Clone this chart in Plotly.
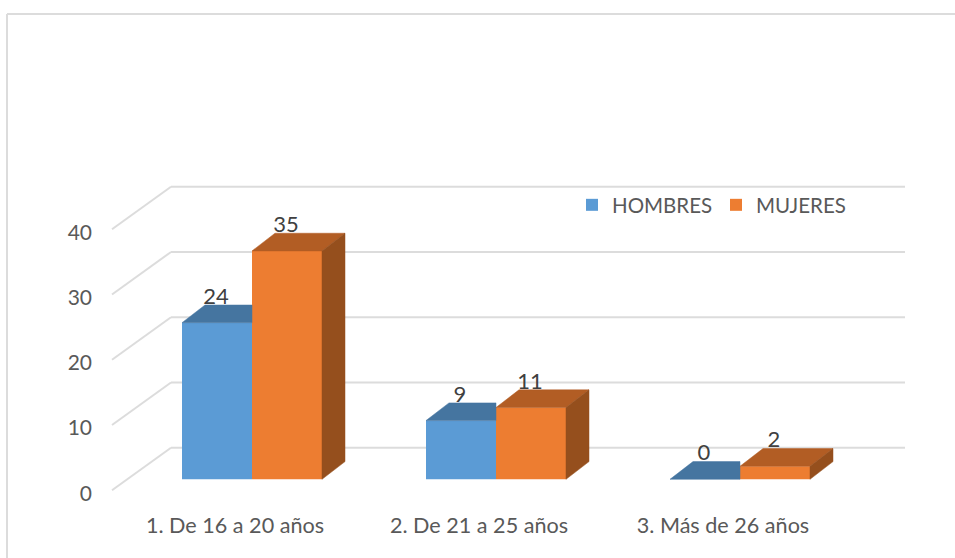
import plotly.graph_objects as go

# ---- data ----
categories = ["1. De 16 a 20 años", "2. De 21 a 25 años", "3. Más de 26 años"]
hombres = [24, 9, 0]
mujeres = [35, 11, 2]
y_ticks = [0, 10, 20, 30, 40]
positions = [1, 2, 3]

# ---- geometry (pixels -> axis units) ----
W, H = 955, 558
PX_CAT = 244.0            # pixels per category
PX_VAL = 6.525            # pixels per value unit
X0_PX, Y0_PX = 252.0, 479.3   # where category 1 centre / value 0 sits
bar_w = 70 / PX_CAT
depth_x = 23 / PX_CAT
depth_y = 17.7 / PX_VAL
wall_x_front = 1 + (112 - X0_PX) / PX_CAT
wall_x_back = 1 + (171 - X0_PX) / PX_CAT
wall_x_end = 1 + (905 - X0_PX) / PX_CAT
wall_y_front = (Y0_PX - 490.3) / PX_VAL   # front end of the 0 line
wall_y_back = (Y0_PX - 447.7) / PX_VAL    # back end of the 0 line

BLUE, BLUE_TOP = "#5B9BD5", "#4575A0"
ORANGE, ORANGE_TOP, ORANGE_SIDE = "#ED7D31", "#B25D24", "#954F1D"
GRID = "#DCDCDC"
TEXT = "#595959"
LABEL = "#404040"
FONT = "Lato"

fig = go.Figure()

# back wall + side wall gridlines, kept under the bars
shapes = []
for t in y_ticks:
    grid = dict(type="line", xref="x", yref="y", layer="below", line=dict(color=GRID, width=2))
    shapes.append(dict(grid, x0=wall_x_front, x1=wall_x_back,
                       y0=t + wall_y_front, y1=t + wall_y_back))
    shapes.append(dict(grid, x0=wall_x_back, x1=wall_x_end,
                       y0=t + wall_y_back, y1=t + wall_y_back))

# front faces
fig.add_trace(go.Bar(x=positions, y=hombres, name="HOMBRES", width=bar_w, offset=-bar_w,
                     marker=dict(color=BLUE, line=dict(width=0))))
fig.add_trace(go.Bar(x=positions, y=mujeres, name="MUJERES", width=bar_w, offset=0,
                     marker=dict(color=ORANGE, line=dict(width=0))))


def poly(xs, ys, color):
    fig.add_trace(go.Scatter(x=xs, y=ys, mode="lines", fill="toself", fillcolor=color,
                             line=dict(color=color, width=0.5), showlegend=False,
                             hoverinfo="skip"))


for c, h, m in zip(positions, hombres, mujeres):
    # blue top, stopped where the orange front face begins
    poly([c - bar_w, c - bar_w + depth_x, c, c, c - bar_w],
         [h, h + depth_y, h + depth_y, h, h], BLUE_TOP)
    # orange top
    poly([c, c + depth_x, c + bar_w + depth_x, c + bar_w, c],
         [m, m + depth_y, m + depth_y, m, m], ORANGE_TOP)
    # orange side
    poly([c + bar_w, c + bar_w + depth_x, c + bar_w + depth_x, c + bar_w, c + bar_w],
         [m, m + depth_y, depth_y, 0, m], ORANGE_SIDE)

# data labels
label_lift = 24.5 / PX_VAL
label_dx = 1 / PX_CAT
fig.add_trace(go.Scatter(
    x=[c - bar_w / 2 - label_dx for c in positions] + [c + bar_w / 2 - label_dx for c in positions],
    y=[v + label_lift for v in hombres] + [v + label_lift for v in mujeres],
    text=[str(v) for v in hombres] + [str(v) for v in mujeres],
    mode="text", textposition="middle center",
    textfont=dict(family=FONT, size=22, color=LABEL),
    showlegend=False, hoverinfo="skip"))

# frame round the chart
frame = dict(type="line", xref="paper", yref="paper", line=dict(color=GRID, width=2))
shapes += [
    dict(frame, x0=7 / W, x1=7 / W, y0=0, y1=1 - 14 / H),
    dict(frame, x0=7 / W, x1=1, y0=1 - 14 / H, y1=1 - 14 / H),
]

fig.update_layout(
    width=W, height=H,
    margin=dict(l=0, r=0, t=0, b=0, pad=0),
    paper_bgcolor="white", plot_bgcolor="white",
    barmode="overlay",
    font=dict(family=FONT, size=19, color=TEXT),
    xaxis=dict(
        range=[1 - X0_PX / PX_CAT, 1 + (W - X0_PX) / PX_CAT],
        tickmode="array", tickvals=positions, ticktext=categories,
        ticklabelshift=-17, ticklen=0, showgrid=False, zeroline=False, showline=False,
        anchor="free", position=(H - 510) / H,
        tickfont=dict(family=FONT, size=21.6, color=TEXT)),
    yaxis=dict(
        range=[(Y0_PX - H) / PX_VAL, Y0_PX / PX_VAL],
        tickmode="array", tickvals=y_ticks,
        ticklabelshift=14, ticklen=0, showgrid=False, zeroline=False, showline=False,
        anchor="free", position=92 / W,
        tickfont=dict(family=FONT, size=21, color=TEXT)),
    legend=dict(orientation="h", x=572 / W, y=1 - 205 / H, xanchor="left", yanchor="middle",
                bgcolor="rgba(0,0,0,0)", font=dict(family=FONT, size=20.5, color=TEXT),
                entrywidth=99, entrywidthmode="pixels", traceorder="normal"),
    shapes=shapes,
)

fig.write_html("out.html", post_script="document.body.style.margin='0';document.body.style.overflow='hidden';",
               config=dict(displayModeBar=False))
